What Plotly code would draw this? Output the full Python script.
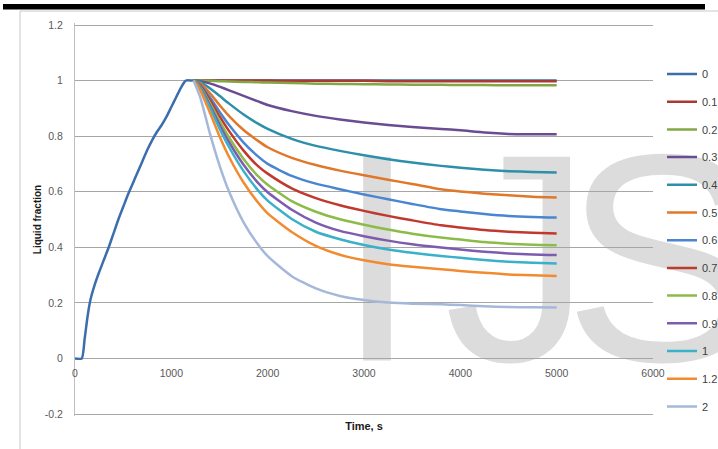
import plotly.graph_objects as go

# ---- data -------------------------------------------------------------
# heating stage (series "0"): liquid fraction rises from 0 to fully liquid
t_heat = [0, 70, 100, 130, 160, 200, 250, 300, 350, 400, 450, 500, 550, 600, 650,
          700, 750, 800, 850, 900, 950, 1000, 1050, 1100, 1150, 1230, 5000]
lf_heat = [0, 0, 0.07, 0.15, 0.21, 0.26, 0.31, 0.355, 0.40, 0.45, 0.50, 0.545, 0.59,
           0.63, 0.67, 0.71, 0.75, 0.785, 0.815, 0.84, 0.87, 0.905, 0.94, 0.975,
           1.0, 1.0, 1.0]

# cooling stage: time points shared by the other series
t_cool = [1230, 1300, 1400, 1500, 1600, 1750, 1900, 2000, 2250, 2500, 2750, 3000,
          3250, 3500, 3800, 4000, 4250, 4500, 4750, 5000]

lf_01 = [1, 1, 1, 1, 1, 1, 1, 1, 0.999, 0.999, 0.999, 0.999, 0.998, 0.998, 0.998,
         0.998, 0.998, 0.998, 0.998, 0.998]
lf_02 = [1, 1, 0.999, 0.998, 0.997, 0.995, 0.994, 0.993, 0.991, 0.989, 0.988, 0.987,
         0.986, 0.985, 0.985, 0.984, 0.984, 0.983, 0.983, 0.983]
lf_03 = [1, 0.998, 0.99, 0.978, 0.965, 0.945, 0.925, 0.912, 0.89, 0.873, 0.86, 0.849,
         0.84, 0.833, 0.826, 0.821, 0.813, 0.808, 0.807, 0.807]
lf_04 = [1, 0.995, 0.972, 0.945, 0.917, 0.878, 0.845, 0.826, 0.79, 0.765, 0.747, 0.731,
         0.717, 0.705, 0.693, 0.686, 0.679, 0.674, 0.671, 0.669]
lf_05 = [1, 0.99, 0.955, 0.912, 0.872, 0.822, 0.783, 0.76, 0.722, 0.696, 0.676, 0.659,
         0.643, 0.628, 0.609, 0.601, 0.593, 0.587, 0.582, 0.579]
lf_06 = [1, 0.985, 0.94, 0.888, 0.84, 0.777, 0.727, 0.70, 0.657, 0.629, 0.609, 0.59,
         0.573, 0.556, 0.537, 0.529, 0.52, 0.513, 0.509, 0.507]
lf_07 = [1, 0.982, 0.93, 0.872, 0.818, 0.748, 0.692, 0.665, 0.612, 0.577, 0.551, 0.531,
         0.513, 0.497, 0.479, 0.471, 0.462, 0.456, 0.452, 0.45]
lf_08 = [1, 0.978, 0.92, 0.855, 0.795, 0.718, 0.656, 0.625, 0.566, 0.528, 0.501, 0.481,
         0.464, 0.449, 0.435, 0.428, 0.419, 0.413, 0.409, 0.407]
lf_09 = [1, 0.975, 0.912, 0.842, 0.778, 0.697, 0.632, 0.598, 0.535, 0.489, 0.459, 0.44,
         0.424, 0.411, 0.399, 0.392, 0.384, 0.378, 0.374, 0.372]
lf_10 = [1, 0.972, 0.903, 0.828, 0.76, 0.674, 0.605, 0.568, 0.502, 0.456, 0.429, 0.408,
         0.392, 0.38, 0.369, 0.362, 0.354, 0.348, 0.344, 0.342]
lf_12 = [1, 0.965, 0.885, 0.8, 0.725, 0.633, 0.561, 0.522, 0.455, 0.405, 0.373, 0.353,
         0.339, 0.33, 0.321, 0.315, 0.308, 0.302, 0.299, 0.297]
lf_20 = [1, 0.94, 0.81, 0.695, 0.6, 0.49, 0.41, 0.368, 0.296, 0.252, 0.225, 0.21,
         0.201, 0.197, 0.195, 0.192, 0.188, 0.185, 0.184, 0.183]

series_names = ["0", "0.1", "0.2", "0.3", "0.4", "0.5", "0.6", "0.7", "0.8", "0.9",
                "1", "1.2", "2"]
cool_values = [lf_01, lf_02, lf_03, lf_04, lf_05, lf_06, lf_07, lf_08, lf_09, lf_10,
               lf_12, lf_20]

y_tickvals = [-0.2, 0, 0.2, 0.4, 0.6, 0.8, 1, 1.2]
y_ticktext = ["-0.2", "0", "0.2", "0.4", "0.6", "0.8", "1", "1.2"]
x_tickvals = [0, 1000, 2000, 3000, 4000, 5000, 6000]
x_ticktext = ["0", "1000", "2000", "3000", "4000", "5000", "6000"]

# ---- styling ----------------------------------------------------------
colors = ["#3C6EAD", "#A83A36", "#84A646", "#6A4C93", "#2E8FAA", "#E0782A",
          "#4A86D0", "#C0392F", "#8DBB47", "#7D5CB0", "#3BB0C9", "#F28B30",
          "#A5B8DA"]

W, H = 718, 449
L, R, T, B = 75, 653, 23, 416          # plot area in pixels
PAD = 2                                # px of axis range beyond the outer gridlines
X_RANGE = [0, 6000]
y_step = 1.4 / (B - T - 2 * PAD)
Y_RANGE = [-0.2 - PAD * y_step, 1.2 + PAD * y_step]
FONT = "Liberation Sans Narrow, Arial Narrow, Liberation Sans, Arial, sans-serif"
MARK_FONT = "Liberation Sans, Arial, sans-serif"


def paper_x(px):
    return (px - L) / (R - L)


def paper_y(py):
    return (B - py) / (B - T)


fig = go.Figure()

fig.add_trace(go.Scatter(
    x=t_heat, y=lf_heat, mode="lines", name=series_names[0],
    legendgroup=series_names[0],
    line=dict(color=colors[0], width=2.5, shape="spline", smoothing=0.6)))

for name, vals, col in zip(series_names[1:], cool_values, colors[1:]):
    fig.add_trace(go.Scatter(
        x=t_cool, y=vals, mode="lines", name=name, legendgroup=name,
        line=dict(color=col, width=2.5, shape="spline", smoothing=0.6)))

grid = "#A6A6A6"

fig.update_layout(
    width=W, height=H,
    margin=dict(l=L, r=W - R, t=T, b=H - B, pad=0, autoexpand=False),
    paper_bgcolor="white", plot_bgcolor="white",
    font=dict(family=FONT, size=11, color="#404040"),
    showlegend=True,
    legend=dict(
        x=paper_x(662), xanchor="left", y=paper_y(59.5), yanchor="top",
        traceorder="grouped", tracegroupgap=8.7,
        font=dict(family=FONT, size=11, color="#404040"),
        bgcolor="rgba(0,0,0,0)", borderwidth=0),
    xaxis=dict(
        range=X_RANGE, anchor="free",
        position=(0 - Y_RANGE[0]) / (Y_RANGE[1] - Y_RANGE[0]),
        tickvals=x_tickvals, ticktext=x_ticktext,
        showgrid=False, zeroline=False, showline=False, ticks="",
        ticklabelstandoff=7,
        tickfont=dict(family=FONT, size=10.5, color="#595959"),
        title=dict(text="<b>Time, s</b>", standoff=44,
                   font=dict(family=FONT, size=11, color="#1a1a1a"))),
    yaxis=dict(
        range=Y_RANGE, tickvals=y_tickvals, ticktext=y_ticktext,
        showgrid=True, gridcolor=grid, gridwidth=1,
        zeroline=False, showline=True, linecolor="#BFBFBF", linewidth=1,
        ticks="", ticklabelstandoff=9,
        tickfont=dict(family=FONT, size=10.5, color="#595959"),
        title=dict(text="<b>Liquid fraction</b>", standoff=1,
                   font=dict(family=FONT, size=10, color="#1a1a1a"))),
)

# page decorations: thick rule across the top and the light chart frame
fig.add_shape(type="rect", xref="paper", yref="paper",
              x0=paper_x(3), x1=paper_x(705), y0=paper_y(9.5), y1=paper_y(4),
              line=dict(width=0), fillcolor="black", layer="above")
fig.add_shape(type="line", xref="paper", yref="paper",
              x0=paper_x(20), x1=paper_x(720), y0=paper_y(11), y1=paper_y(11),
              line=dict(color="#C8C8C8", width=1))
fig.add_shape(type="line", xref="paper", yref="paper",
              x0=paper_x(20), x1=paper_x(20), y0=paper_y(11), y1=paper_y(452),
              line=dict(color="#C8C8C8", width=1))

# large light-grey publisher mark behind the curves, one letter at a time
for letter, cx in (("I", 377), ("J", 518), ("S", 662)):
    fig.add_shape(type="rect", xref="paper", yref="paper",
                  x0=paper_x(cx - 60), x1=paper_x(cx + 60),
                  y0=paper_y(330), y1=paper_y(130),
                  line=dict(width=0), fillcolor="rgba(0,0,0,0)", layer="below",
                  label=dict(text=letter, textposition="middle center", padding=0,
                             font=dict(family=MARK_FONT, size=296,
                                       color="#DCDCDC")))

fig.write_html("out.html")
